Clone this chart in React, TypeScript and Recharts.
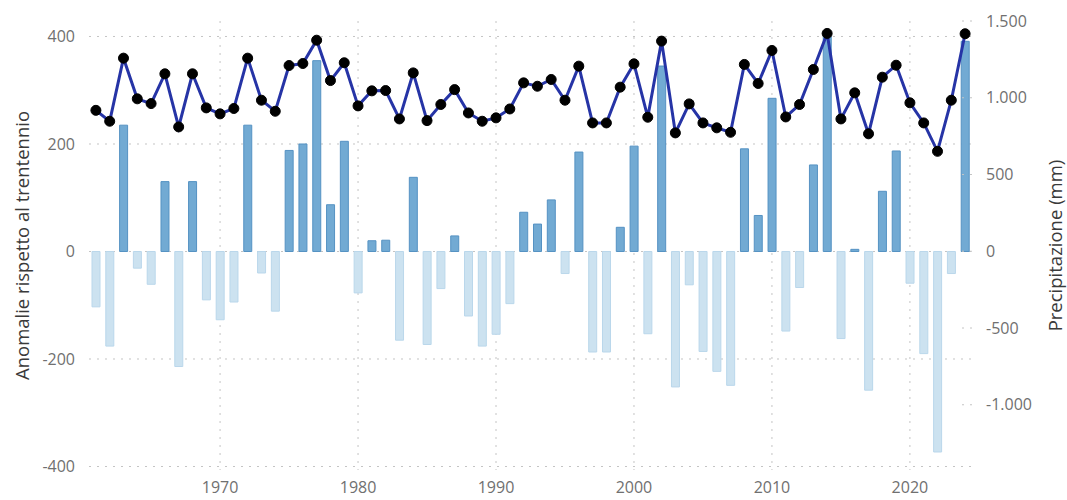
import { ComposedChart, Bar, Line, XAxis, YAxis, CartesianGrid, Cell } from 'recharts'

const years = [
  1961, 1962, 1963, 1964, 1965, 1966, 1967, 1968, 1969, 1970,
  1971, 1972, 1973, 1974, 1975, 1976, 1977, 1978, 1979, 1980,
  1981, 1982, 1983, 1984, 1985, 1986, 1987, 1988, 1989, 1990,
  1991, 1992, 1993, 1994, 1995, 1996, 1997, 1998, 1999, 2000,
  2001, 2002, 2003, 2004, 2005, 2006, 2007, 2008, 2009, 2010,
  2011, 2012, 2013, 2014, 2015, 2016, 2017, 2018, 2019, 2020,
  2021, 2022, 2023, 2024
]

// anomalie rispetto al trentennio (mm)
const anomalie = [
  -103, -176, 235, -31, -61, 130, -214, 130, -90, -127,
  -94, 235, -40, -111, 188, 200, 355, 87, 205, -77,
  20, 21, -165, 138, -173, -69, 29, -120, -176, -154,
  -97, 73, 51, 96, -41, 185, -187, -187, 45, 196,
  -153, 345, -252, -62, -186, -223, -249, 191, 67, 285,
  -148, -67, 161, 400, -162, 4, -258, 112, 187, -59,
  -190, -373, -41, 391
]

// precipitazione annua (mm)
const precipitazione = [
  918, 847, 1258, 993, 962, 1156, 810, 1156, 934, 895,
  930, 1258, 984, 912, 1210, 1223, 1375, 1112, 1228, 947,
  1045, 1047, 862, 1162, 851, 956, 1053, 901, 847, 869,
  927, 1097, 1075, 1119, 984, 1206, 836, 836, 1069, 1221,
  873, 1369, 771, 960, 836, 804, 775, 1217, 1093, 1308,
  875, 956, 1184, 1419, 862, 1032, 765, 1134, 1212, 967,
  836, 651, 984, 1417
]

const xTicks = [1970, 1980, 1990, 2000, 2010, 2020]
const leftTicks = [-400, -200, 0, 200, 400]
const rightTicks = [-1000, -500, 0, 500, 1000, 1500]

const data = years.map((year, i) => ({
  year,
  anomalia: anomalie[i],
  precipitazione: precipitazione[i]
}))

// separatore delle migliaia all'italiana
const formatIt = (v: number) => {
  const s = Math.abs(v).toString().replace(/\B(?=(\d{3})+(?!\d))/g, '.')
  return v < 0 ? `-${s}` : s
}

const font = '"Open Sans", "Noto Sans", sans-serif'
const tickStyle = { fontSize: 16, fill: '#707070', fontFamily: font }
const titleStyle = { fontSize: 18.5, fill: '#3a3a3a', fontFamily: font }

export default function App() {
  return (
    <div style={{ position: 'absolute', top: 8, left: 8, width: 1059, height: 492 }}>
      <ComposedChart
        width={1059}
        height={492}
        data={data}
        margin={{ top: 13, right: 0, bottom: 0, left: 0 }}
        barSize={8}
      >
        <CartesianGrid yAxisId="left" stroke="#c4c4c4" strokeDasharray="2 6" syncWithTicks />
        <XAxis
          dataKey="year"
          type="category"
          ticks={xTicks}
          height={30}
          axisLine={false}
          tickLine={false}
          tickSize={0}
          tickMargin={12}
          tick={tickStyle}
        />
        <YAxis
          yAxisId="left"
          orientation="left"
          width={81}
          domain={[-406.5, 428.8]}
          ticks={leftTicks}
          allowDataOverflow
          axisLine={false}
          tickLine={false}
          tickSize={0}
          tickMargin={14}
          tick={tickStyle}
          label={{
            value: 'Anomalie rispetto al trentennio',
            angle: -90,
            position: 'center',
            dx: -26.5,
            style: titleStyle
          }}
        />
        <YAxis
          yAxisId="right"
          orientation="right"
          width={95}
          domain={[-1425, 1500]}
          ticks={rightTicks}
          allowDataOverflow
          axisLine={false}
          tickLine={{ stroke: '#c4c4c4', strokeDasharray: '2 6' }}
          tickSize={-10}
          tickMargin={24}
          tick={tickStyle}
          tickFormatter={formatIt}
          label={{
            value: 'Precipitazione (mm)',
            angle: -90,
            position: 'center',
            dx: 36,
            style: titleStyle
          }}
        />
        <Bar yAxisId="left" dataKey="anomalia" isAnimationActive={false}>
          {data.map((d) => (
            <Cell
              key={d.year}
              fill={d.anomalia >= 0 ? '#72aad3' : '#cce2f0'}
              stroke={d.anomalia >= 0 ? '#5592c3' : '#bad7eb'}
              strokeWidth={1}
            />
          ))}
        </Bar>
        <Line
          yAxisId="right"
          dataKey="precipitazione"
          type="linear"
          stroke="#2634a6"
          strokeWidth={3}
          dot={{ r: 5, fill: '#000', stroke: '#000', strokeWidth: 1 }}
          activeDot={false}
          isAnimationActive={false}
        />
      </ComposedChart>
    </div>
  )
}
